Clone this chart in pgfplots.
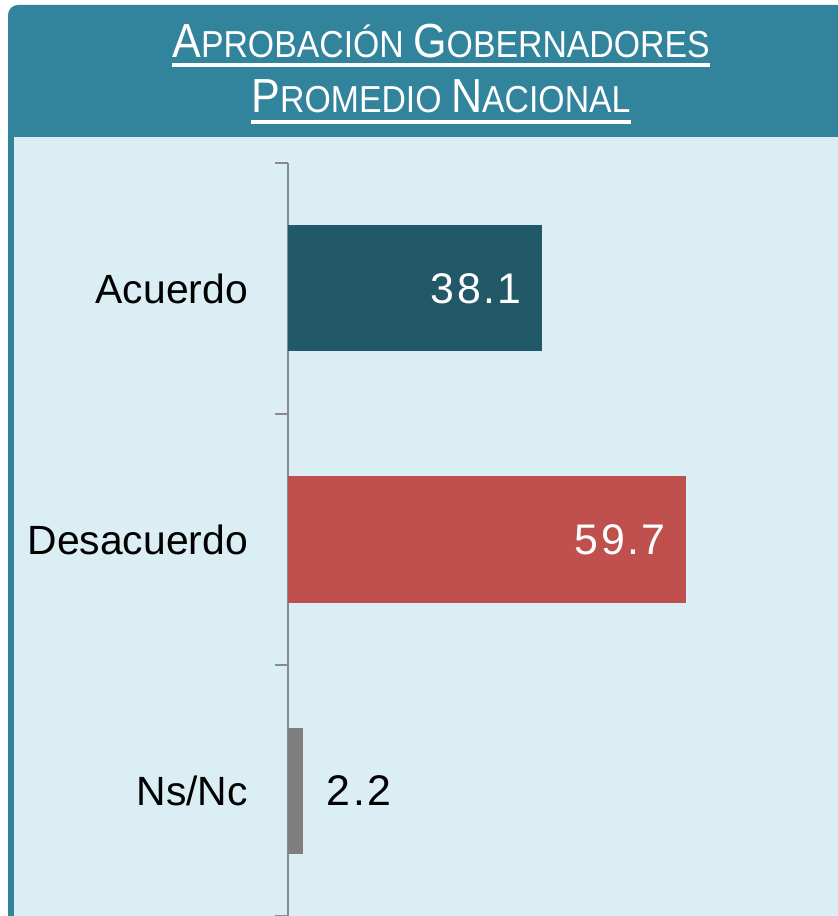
\documentclass[border=0pt]{standalone}
\usepackage{pgfplots}
\pgfplotsset{compat=1.18}
\usepackage{fontspec}
\usepackage{graphicx}
\setmainfont{Liberation Sans}
\newfontfamily\valfont[LetterSpace=6]{Liberation Sans}
\definecolor{hdr}{HTML}{31849B}
\definecolor{bgc}{HTML}{DAEEF3}
\definecolor{c1}{HTML}{215968}
\definecolor{c2}{HTML}{C0504D}
\definecolor{c3}{HTML}{7F7F7F}
\definecolor{axc}{HTML}{8A8A8A}
\newcommand\BigC[1]{{\fontsize{48}{48}\selectfont #1}}
\newcommand\SmC[1]{{\fontsize{37.7}{38}\selectfont #1}}
\begin{document}
\begin{tikzpicture}[x=1bp,y=1bp]
\useasboundingbox (0,0) rectangle (838,916);
\fill[white] (0,0) rectangle (838,916);
\fill[bgc] (14,0) rectangle (838,779);
\fill[hdr] (8,0) rectangle (14,779);
\fill[hdr] (8,779) -- (8,901) arc[start angle=180, end angle=90, radius=10] -- (838,911) -- (838,779) -- cycle;
\node[white, inner sep=0pt, anchor=base] (t1) at (441,858) {\fontsize{37.7}{38}\selectfont\scalebox{0.9}[1]{\BigC{A}\SmC{PROBACIÓN} \BigC{G}\SmC{OBERNADORES}}};
\draw[white, line width=4.5] ([yshift=-7]t1.base west) -- ([yshift=-7]t1.base east);
\node[white, inner sep=0pt, anchor=base] (t2) at (441,803) {\fontsize{37.7}{38}\selectfont\scalebox{0.9}[1]{\BigC{P}\SmC{ROMEDIO} \BigC{N}\SmC{ACIONAL}}};
\draw[white, line width=4.5] ([yshift=-9]t2.base west) -- ([yshift=-9]t2.base east);
\begin{axis}[
  at={(288bp,0bp)}, anchor=south west,
  scale only axis, width=550bp, height=753bp,
  xbar, bar width=126bp, bar shift=0pt,
  xmin=0, xmax=82.5, ymin=-0.5, ymax=2.5, y dir=reverse,
  axis x line=none, axis y line*=left,
  axis line style={axc, line width=1.3bp, -},
  ytick={0,1,2}, yticklabels={Acuerdo,Desacuerdo,Ns/Nc},
  major tick length=0pt,
  minor ytick={-0.5,0.5,1.5,2.5}, minor tick length=13bp, tick align=outside,
  minor tick style={axc, line width=1.3bp},
  yticklabel style={font=\fontsize{41}{41}\selectfont, anchor=east, inner sep=0pt, xshift=-40bp},
  point meta=explicit symbolic,
  nodes near coords,
  clip=false,
]
\addplot[fill=c1, draw=none, every node near coord/.append style={anchor=east, text=white, inner sep=0pt, xshift=-20bp, font=\valfont\fontsize{43}{43}\selectfont}] coordinates {(38.1,0) [38.1]};
\addplot[fill=c2, draw=none, every node near coord/.append style={anchor=east, text=white, inner sep=0pt, xshift=-20bp, font=\valfont\fontsize{43}{43}\selectfont}] coordinates {(59.7,1) [59.7]};
\addplot[fill=c3, draw=none, every node near coord/.append style={anchor=west, text=black, inner sep=0pt, xshift=24bp, font=\valfont\fontsize{43}{43}\selectfont}] coordinates {(2.2,2) [2.2]};
\end{axis}
\end{tikzpicture}
\end{document}
